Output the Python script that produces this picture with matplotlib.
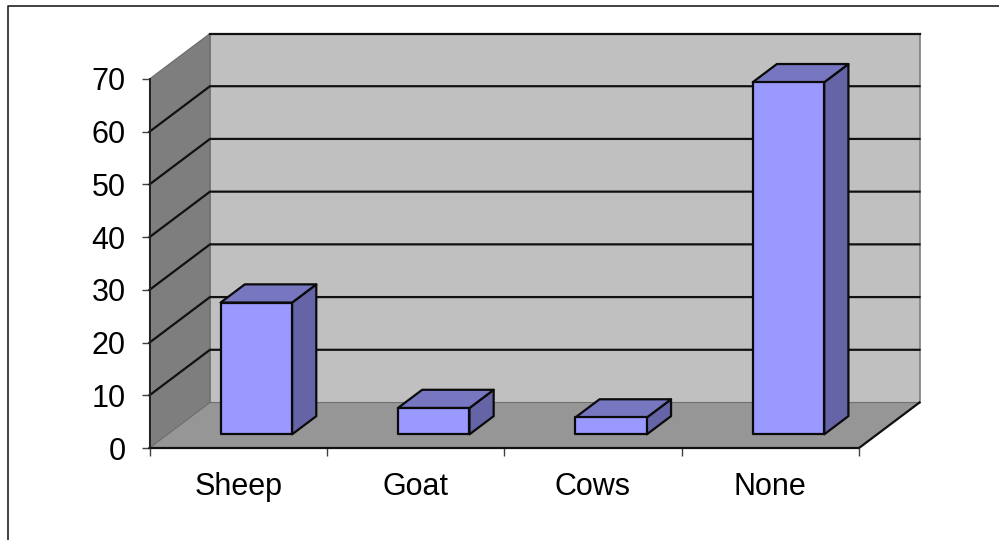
import matplotlib
matplotlib.use("Agg")
import matplotlib.pyplot as plt
from matplotlib.lines import Line2D
from matplotlib.patches import Polygon

plt.rcParams["font.family"] = ["Liberation Sans", "DejaVu Sans"]

categories = ["Sheep", "Goat", "Cows", "None"]
values = [25, 5, 3.2, 66.8]
value_ticks = [0, 10, 20, 30, 40, 50, 60, 70]

W, H = 999, 540
fig = plt.figure(figsize=(W / 100, H / 100), dpi=100, facecolor="white")

# Front plane of the chart box, in pixels
left, right, bottom, top = 149.5, 859.0, 448.0, 79.0
ax = fig.add_axes([left / W, 1 - bottom / H, (right - left) / W, (bottom - top) / H])
ax.set_xlim(0, len(categories))
ax.set_ylim(0, 70)
ax.patch.set_alpha(0)

# Oblique projection: how far full depth moves a point, in data units
px_x = (right - left) / len(categories)
px_y = (bottom - top) / 70
DX = 60.5 / px_x
DY = 45.5 / px_y


def proj(x, y, d):
    return (x + d * DX, y + d * DY)


def face(points, color, edge, lw, z):
    ax.add_patch(Polygon(points, closed=True, facecolor=color, edgecolor=edge,
                         linewidth=lw, joinstyle="round", clip_on=False, zorder=z))


n = len(categories)

# Back wall, side wall and floor
face([proj(0, 0, 1), proj(n, 0, 1), proj(n, 70, 1), proj(0, 70, 1)], "#c0c0c0", "#808080", 1.2, 1)
face([proj(0, 0, 0), proj(0, 0, 1), proj(0, 70, 1), proj(0, 70, 0)], "#7e7e7e", "#6a6a6a", 0.8, 1)
face([proj(0, 0, 0), proj(n, 0, 0), proj(n, 0, 1), proj(0, 0, 1)], "#969696", "#707070", 0.8, 2)

# Gridlines run along the side wall and across the back wall
for v in value_ticks[1:]:
    pts = [proj(0, v, 0), proj(0, v, 1), proj(n, v, 1)]
    if v == value_ticks[-1]:
        pts = pts[1:]
    ax.plot(*zip(*pts), color="#111111", lw=1.6, clip_on=False, zorder=3,
            solid_joinstyle="miter")

# Box edges drawn in black
ax.plot(*zip(proj(0, 0, 0), proj(n, 0, 0), proj(n, 0, 1)), color="#111111", lw=1.6,
        clip_on=False, zorder=3)
ax.plot(*zip(proj(0, 0, 0), proj(0, 70, 0)), color="#222222", lw=1.4, clip_on=False, zorder=3)

# Bars: front, top and right faces, sitting mid-depth on the floor
bar_w = 71.5 / px_x
d0, d1 = 0.3, 0.7
for i, val in enumerate(values):
    x0 = i + 0.5 - bar_w / 2
    x1 = i + 0.5 + bar_w / 2
    z = 10 + i
    face([proj(x1, 0, d0), proj(x1, 0, d1), proj(x1, val, d1), proj(x1, val, d0)],
         "#6464a6", "#0a0a0a", 1.6, z)
    face([proj(x0, val, d0), proj(x1, val, d0), proj(x1, val, d1), proj(x0, val, d1)],
         "#7777c1", "#0a0a0a", 1.6, z)
    face([proj(x0, 0, d0), proj(x1, 0, d0), proj(x1, val, d0), proj(x0, val, d0)],
         "#9999ff", "#0a0a0a", 1.6, z)

# Axes furniture
for spine in ax.spines.values():
    spine.set_visible(False)
ax.set_yticks(value_ticks)
ax.set_xticks(range(n + 1))
ax.set_xticklabels([""] * (n + 1))
ax.set_xticks([i + 0.5 for i in range(n)], minor=True)
ax.set_xticklabels(categories, minor=True)
ax.tick_params(axis="y", length=5.8, width=1.0, color="#404040", labelsize=22, pad=11.5,
               labelcolor="black")
ax.tick_params(axis="x", which="major", length=5.8, width=1.0, color="#404040")
ax.tick_params(axis="x", which="minor", length=0, labelsize=22, pad=17, labelcolor="black")

# Frame around the chart area, open on the right and at the bottom
fig.add_artist(Line2D([8 / W, 8 / W, 1], [0, 1 - 5.5 / H, 1 - 5.5 / H],
                      color="#222222", lw=1.2, transform=fig.transFigure))

fig.savefig("out.png", dpi=100, facecolor="white")
